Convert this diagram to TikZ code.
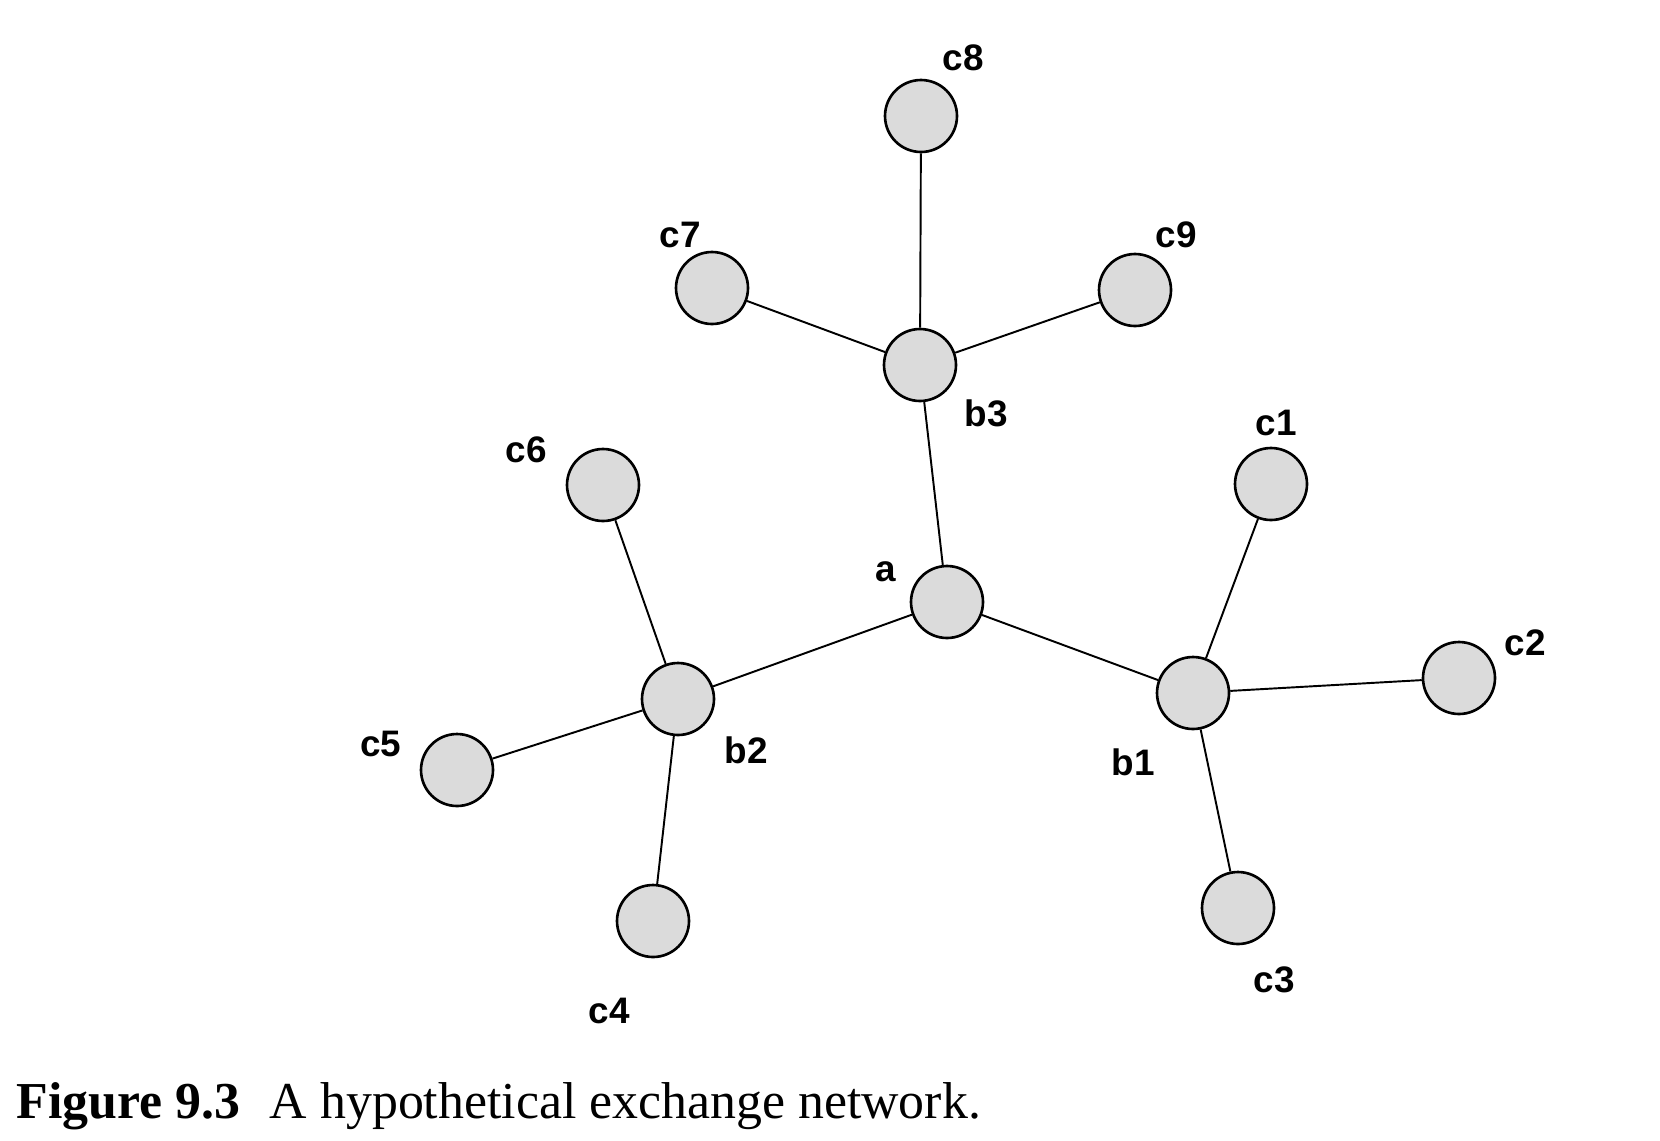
\documentclass[tikz,border=0pt]{standalone}
\usepackage{fontspec}
\setmainfont{Liberation Serif}
\setsansfont{Liberation Sans}
\usetikzlibrary{positioning}

\begin{document}
\begin{tikzpicture}[
  x=0.02cm, y=-0.02cm,
  actor/.style={circle, draw, line width=1.5pt, fill=black!14, minimum size=1.44cm, inner sep=0pt},
  tag/.style={font=\sffamily\bfseries\fontsize{21}{21}\selectfont, inner sep=0pt},
  tie/.style={draw, line width=1.1pt},
]
  \useasboundingbox (0,0) rectangle (1660,1140);
  % actors
  \node[actor] (a)  at (947,602) {};
  \node[actor] (b1) at (1193,693) {};
  \node[actor] (b2) at (678,699) {};
  \node[actor] (b3) at (920,365) {};
  \node[actor] (c1) at (1271,484) {};
  \node[actor] (c2) at (1459,678) {};
  \node[actor] (c3) at (1238,908) {};
  \node[actor] (c4) at (653,921) {};
  \node[actor] (c5) at (457,770) {};
  \node[actor] (c6) at (603,485) {};
  \node[actor] (c7) at (712,288) {};
  \node[actor] (c8) at (921,116) {};
  \node[actor] (c9) at (1135,290) {};
  % ties
  \path[tie] (a) -- (b1) (a) -- (b2) (a) -- (b3);
  \path[tie] (b1) -- (c1) (b1) -- (c2) (b1) -- (c3);
  \path[tie] (b2) -- (c4) (b2) -- (c5) (b2) -- (c6);
  \path[tie] (b3) -- (c7) (b3) -- (c8) (b3) -- (c9);
  % names
  \node[tag] (la)  at (886,572) {a};
  \node[tag] (lb1) at (1133,762) {b1};
  \node[tag] (lb2) at (746,750) {b2};
  \node[tag] (lb3) at (986,413) {b3};
  \node[tag] (lc1) at (1276,423) {c1};
  \node[tag] (lc2) at (1525,643) {c2};
  \node[tag] (lc3) at (1274,980) {c3};
  \node[tag] (lc4) at (609,1011) {c4};
  \node[tag] (lc5) at (381,744) {c5};
  \node[tag] (lc6) at (526,450) {c6};
  \node[tag] (lc7) at (680,235) {c7};
  \node[tag] (lc8) at (963,58) {c8};
  \node[tag] (lc9) at (1176,235) {c9};
  % caption
  \node[anchor=base west, inner sep=0pt, font=\fontsize{29.5}{29.5}\selectfont] (cap) at (16,1118)
    {\textbf{Figure 9.3}\hspace{0.6cm}A hypothetical exchange network.};
\end{tikzpicture}
\end{document}
